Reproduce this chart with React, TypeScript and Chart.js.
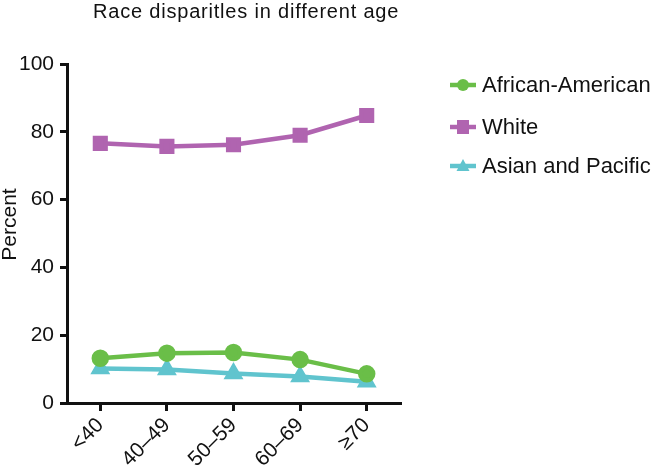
import React, { useEffect, useRef } from "react";
import { Chart, registerables } from "chart.js";

Chart.register(...registerables);

const categories = ["<40", "40–49", "50–59", "60–69", "≥70"];
const africanAmerican = [13.2, 14.7, 14.9, 12.8, 8.6];
const white = [76.6, 75.7, 76.2, 79.0, 84.8];
const asianPacific = [10.2, 9.9, 8.7, 7.8, 6.3];
const yTicks = [0, 20, 40, 60, 80, 100];
const titleText = "Race disparitles in different age";
const yTitle = "Percent";

const GREEN = "rgb(106,190,72)";
const PURPLE = "rgb(176,100,176)";
const CYAN = "rgb(96,196,206)";
const FONT = "Liberation Sans, Arial, sans-serif";

const overlayPlugin = {
  id: "overlay",
  afterDraw(chart: any) {
    const ctx = chart.ctx as CanvasRenderingContext2D;
    const area = chart.chartArea;
    ctx.save();
    // title
    ctx.fillStyle = "#111";
    ctx.font = `20px ${FONT}`;
    (ctx as any).letterSpacing = "0.8px";
    ctx.textAlign = "left";
    ctx.textBaseline = "alphabetic";
    ctx.fillText(titleText, area.left + 26, 18);
    (ctx as any).letterSpacing = "0px";
    // y axis title
    ctx.save();
    ctx.translate(16, (area.top + area.bottom) / 2 - 9);
    ctx.rotate(-Math.PI / 2);
    ctx.textAlign = "center";
    ctx.textBaseline = "alphabetic";
    ctx.font = `21px ${FONT}`;
    ctx.fillText(yTitle, 0, 0);
    ctx.restore();
    // legend
    const rows = [85, 127, 166];
    chart.data.datasets.forEach((ds: any, i: number) => {
      const y = rows[i];
      const x0 = area.right + 50;
      const x1 = x0 + 26;
      const cx = (x0 + x1) / 2;
      ctx.strokeStyle = ds.borderColor;
      ctx.lineWidth = 4.5;
      ctx.beginPath();
      ctx.moveTo(x0, y);
      ctx.lineTo(x1, y);
      ctx.stroke();
      ctx.fillStyle = ds.borderColor;
      ctx.beginPath();
      if (ds.pointStyle === "circle") {
        ctx.arc(cx, y, 6, 0, Math.PI * 2);
      } else if (ds.pointStyle === "rect") {
        ctx.rect(cx - 6, y - 7, 12, 14);
      } else {
        ctx.moveTo(cx, y - 7);
        ctx.lineTo(cx + 6.5, y + 5);
        ctx.lineTo(cx - 6.5, y + 5);
        ctx.closePath();
      }
      ctx.fill();
      ctx.fillStyle = "#111";
      ctx.font = `22px ${FONT}`;
      ctx.textAlign = "left";
      ctx.textBaseline = "middle";
      ctx.fillText(ds.label, x1 + 6, y + 1);
    });
    ctx.restore();
  },
};

export default function App() {
  const ref = useRef<HTMLCanvasElement | null>(null);
  useEffect(() => {
    if (!ref.current) return;
    const chart = new Chart(ref.current, {
      type: "line",
      data: {
        labels: categories,
        datasets: [
          {
            label: "African-American",
            data: africanAmerican,
            borderColor: GREEN,
            backgroundColor: GREEN,
            pointStyle: "circle",
            pointRadius: 6.5,
            borderWidth: 4.5,
            tension: 0,
          },
          {
            label: "White",
            data: white,
            borderColor: PURPLE,
            backgroundColor: PURPLE,
            pointStyle: "rect",
            pointRadius: 7.5,
            borderWidth: 4.5,
            tension: 0,
          },
          {
            label: "Asian and Pacific",
            data: asianPacific,
            borderColor: CYAN,
            backgroundColor: CYAN,
            pointStyle: "triangle",
            pointRadius: 7,
            borderWidth: 4.5,
            tension: 0,
          },
        ],
      },
      options: {
        animation: false,
        responsive: false,
        devicePixelRatio: 1,
        layout: { padding: { left: 0, top: 64, right: 252, bottom: 0 } },
        plugins: {
          legend: { display: false },
          title: { display: false },
          tooltip: { enabled: false },
        },
        scales: {
          x: {
            offset: true,
            afterFit(scale: any) {
              scale.height = 73;
            },
            grid: {
              drawOnChartArea: false,
              drawTicks: true,
              tickLength: 8,
              color: "#111",
              lineWidth: 3,
              offset: false,
            },
            border: { color: "#111", width: 3 },
            ticks: {
              color: "#111",
              font: { size: 21, family: FONT },
              minRotation: 45,
              maxRotation: 45,
              padding: 2,
            },
          },
          y: {
            min: 0,
            max: 100,
            afterFit(scale: any) {
              scale.width = 67;
            },
            afterBuildTicks(scale: any) {
              scale.ticks = yTicks.map((v) => ({ value: v }));
            },
            grid: {
              drawOnChartArea: false,
              drawTicks: true,
              tickLength: 7,
              color: "#111",
              lineWidth: 3,
            },
            border: { color: "#111", width: 3 },
            ticks: {
              color: "#111",
              font: { size: 21, family: FONT },
              padding: 6,
            },
          },
        },
      },
      plugins: [overlayPlugin],
    });
    return () => chart.destroy();
  }, []);
  return (
    <div style={{ position: "fixed", left: 0, top: 0, width: 652, height: 476, background: "#fff" }}>
      <canvas ref={ref} width={652} height={476} style={{ width: 652, height: 476 }} />
    </div>
  );
}
